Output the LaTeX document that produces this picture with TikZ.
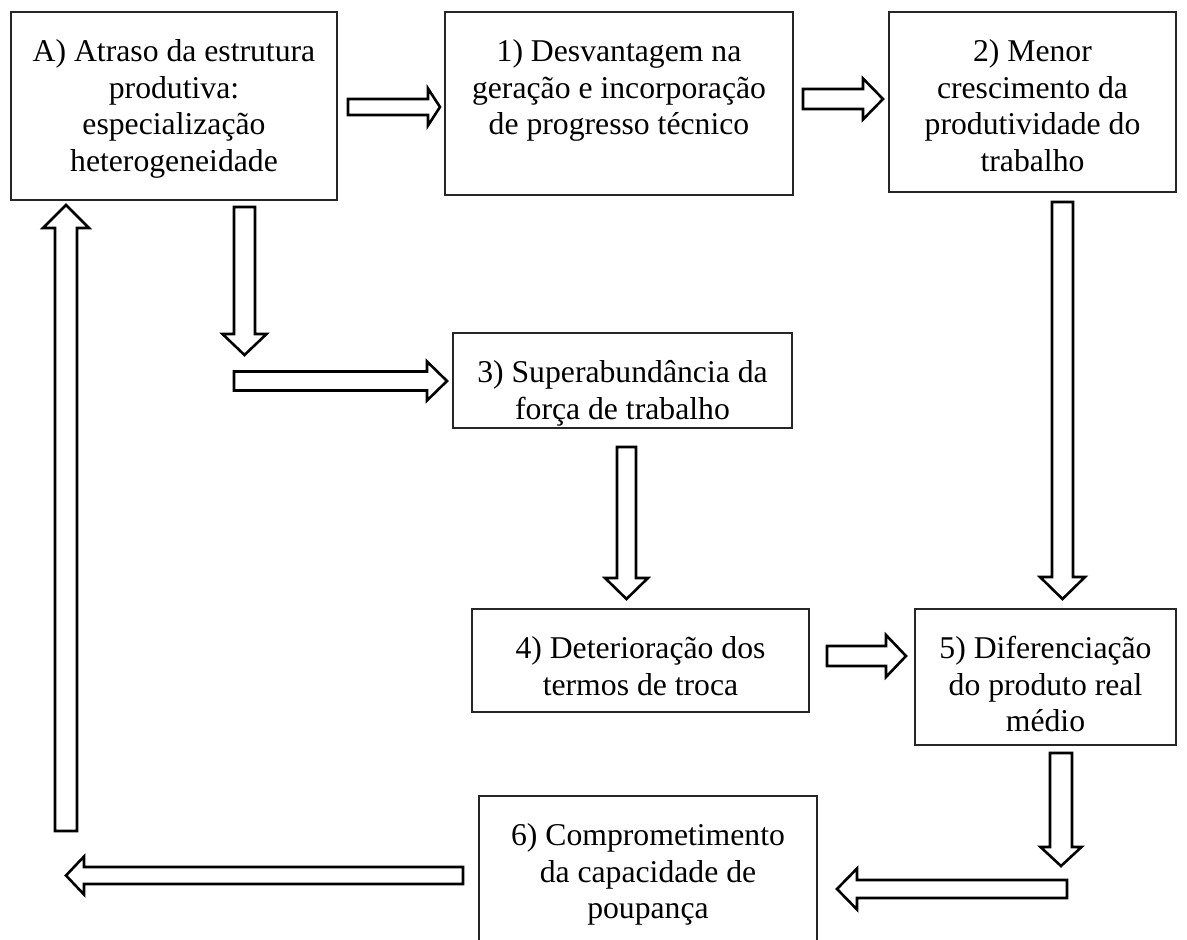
\documentclass[tikz,border=0pt]{standalone}
\usepackage{fontspec}
\setmainfont{Liberation Serif}
\usetikzlibrary{calc}
\tikzset{
  box/.style={draw=black!85, line width=1.2pt, inner sep=0pt, rectangle},
  txt/.style={inner sep=0pt, align=center, anchor=north,
    font=\fontsize{31.7pt}{36.5pt}\selectfont},
  blockarrow/.style={draw=black, line width=2.6pt, fill=white, line join=miter},
}
% box: name, left, top, right, bottom
\newcommand\boxat[5]{\node[box, minimum width={#4-#2}, minimum height={#5-#3}] (#1) at ({(#2+#4)/2},{(#3+#5)/2}) {};}
% block arrow: tail x,y ; tip x,y ; half shaft ; half head ; head length
\newcommand\barrow[7]{%
  \pgfmathsetmacro\bdx{#3-#1}\pgfmathsetmacro\bdy{#4-#2}%
  \pgfmathsetmacro\bL{veclen(\bdx,\bdy)}%
  \pgfmathsetmacro\bux{\bdx/\bL}\pgfmathsetmacro\buy{\bdy/\bL}%
  \pgfmathsetmacro\bbx{#3-\bux*#7}\pgfmathsetmacro\bby{#4-\buy*#7}%
  \draw[blockarrow]
    ({#1-\buy*#5},{#2+\bux*#5}) -- ({\bbx-\buy*#5},{\bby+\bux*#5}) --
    ({\bbx-\buy*#6},{\bby+\bux*#6}) -- (#3,#4) --
    ({\bbx+\buy*#6},{\bby-\bux*#6}) -- ({\bbx+\buy*#5},{\bby-\bux*#5}) --
    ({#1+\buy*#5},{#2-\bux*#5}) -- cycle;}
\begin{document}
\begin{tikzpicture}[x=1pt,y=-1pt]
\useasboundingbox (0,0) rectangle (1187,940);
\fill[white] (0,0) rectangle (1187,940);

\boxat{A}{11}{12}{337}{200}
\boxat{B1}{445}{12}{793}{195}
\boxat{B2}{889}{12}{1176}{192}
\boxat{B3}{453}{333}{792}{428}
\boxat{B4}{472}{609}{809}{712}
\boxat{B5}{915}{609}{1176}{745}
\boxat{B6}{479}{796}{817}{946}

\node[txt] (tA) at ($(A.north)+(0,24.5)$) {\strut A) Atraso da estrutura\\produtiva:\\especialização\\heterogeneidade};
\node[txt] (t1) at ($(B1.north)+(0,24.5)$) {\strut 1) Desvantagem na\\geração e incorporação\\de progresso técnico};
\node[txt] (t2) at ($(B2.north)+(0,24.5)$) {\strut 2) Menor\\crescimento da\\produtividade do\\trabalho};
\node[txt] (t3) at ($(B3.north)+(0,24.5)$) {\strut 3) Superabundância da\\força de trabalho};
\node[txt] (t4) at ($(B4.north)+(0,24.5)$) {\strut 4) Deterioração dos\\termos de troca};
\node[txt] (t5) at ($(B5.north)+(0,24.5)$) {\strut 5) Diferenciação\\do produto real\\médio};
\node[txt] (t6) at ($(B6.north)+(0,24.5)$) {\strut 6) Comprometimento\\da capacidade de\\poupança};

% block arrows
\barrow{348}{107}{440}{107}{8}{18.5}{12}
\barrow{803}{99}{883}{99}{10}{20.5}{20}
\barrow{244.5}{207}{244.5}{355}{10.5}{22}{21}
\barrow{234}{381}{447}{381}{9.5}{19.5}{20}
\barrow{1062.5}{202}{1062.5}{599}{10.5}{22.5}{22}
\barrow{626.5}{447}{626.5}{599}{9.5}{21.5}{21}
\barrow{827}{656}{906}{656}{10}{21}{20}
\barrow{1061}{753}{1061}{866}{11}{20.5}{19}
\barrow{1067}{889}{837}{889}{9}{20.5}{20}
\barrow{463}{875.5}{66}{875.5}{8.5}{19}{18}
\barrow{66}{831}{66}{205}{11}{23}{23}
\end{tikzpicture}
\end{document}
